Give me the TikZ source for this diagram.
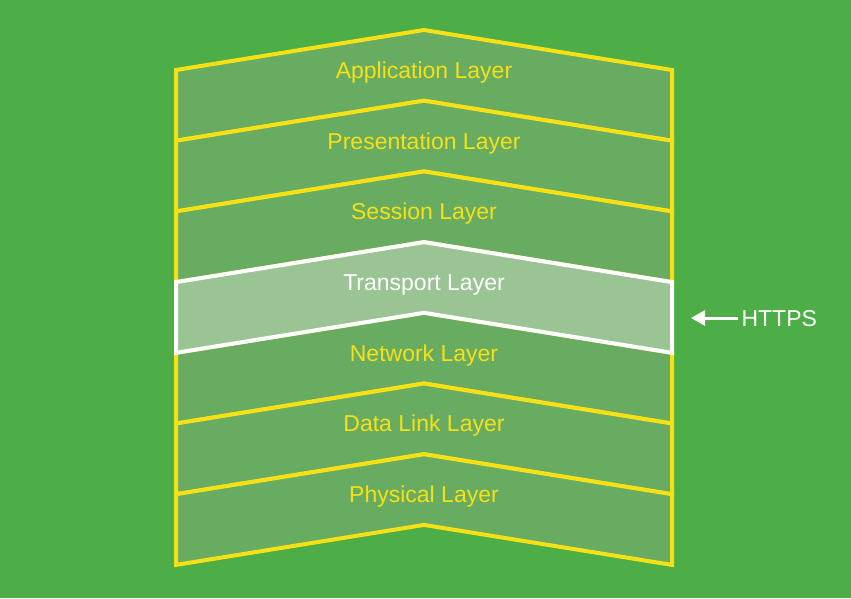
\documentclass[tikz,border=0pt]{standalone}
\usepackage{fontspec}
\setmainfont{Liberation Sans}
\usetikzlibrary{arrows.meta,positioning}
\definecolor{bggreen}{RGB}{77,173,70}
\definecolor{layerfill}{RGB}{104,172,98}
\definecolor{activefill}{RGB}{155,196,148}
\definecolor{layeryellow}{RGB}{246,224,22}

\begin{document}
\begin{tikzpicture}[
        % one unit is one pixel of the picture, y grows downwards
        x=1pt, y=-1pt,
        layer/.style={draw=layeryellow, fill=layerfill, line width=4pt, line join=miter},
        active layer/.style={layer, draw=white, fill=activefill},
        layer text/.style={text=layeryellow, font=\fontsize{23}{27}\selectfont},
        active text/.style={layer text, text=white},
        arrow/.style={white, line width=3pt, -{Triangle[length=14pt,width=15pt]}}
    ]
    % Important coordinates are defined
    \newcommand\lft{176}
    \newcommand\rgt{672}
    \newcommand\apx{424}
    \newcommand\lh{70.7}
    \newcommand\rise{40}

    % Background
    \fill[bggreen] (0,0) rectangle (851,598);
    \useasboundingbox (0,0) rectangle (851,598);

    % Layers, top to bottom
    \foreach \i/\name/\txt in {0/app/Application Layer, 1/pres/Presentation Layer,
            2/sess/Session Layer, 4/net/Network Layer, 5/link/Data Link Layer,
            6/phys/Physical Layer} {
        \pgfmathsetmacro\top{70+\lh*\i}
        \draw[layer] (\lft,\top) -- (\apx,\top-\rise) -- (\rgt,\top)
            -- (\rgt,\top+\lh) -- (\apx,\top+\lh-\rise) -- (\lft,\top+\lh) -- cycle;
        \node[layer text] (\name) at (\apx,\top+2.5) {\txt};
    }

    % Transport layer, drawn last so its border lies on top
    \pgfmathsetmacro\top{70+\lh*3}
    \draw[active layer] (\lft,\top) -- (\apx,\top-\rise) -- (\rgt,\top)
        -- (\rgt,\top+\lh) -- (\apx,\top+\lh-\rise) -- (\lft,\top+\lh) -- cycle;
    \node[active text] (tport) at (\apx,\top+2.5) {Transport Layer};

    % HTTPS marker
    \coordinate (tport edge) at (691,318);
    \node[active text, anchor=west] (https) at (738,319) {HTTPS};
    \draw[arrow] (https.west |- tport edge) -- (tport edge);
\end{tikzpicture}
\end{document}
